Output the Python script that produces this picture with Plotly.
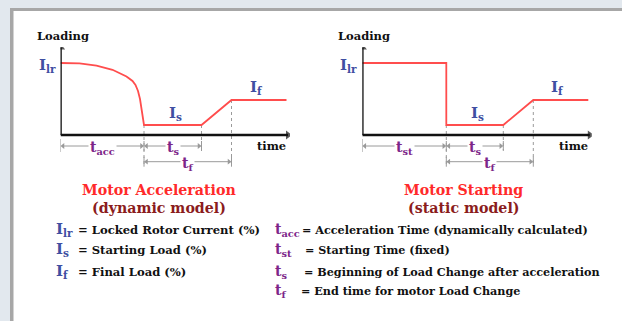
import plotly.graph_objects as go

W, H = 622, 321

# ---- schematic load levels (arbitrary loading units) ----
I_LR = 72     # locked rotor current
I_S = 10      # starting load
I_F = 35      # final load

# ---- time marks (arbitrary time units) ----
T_ACC = 8.35  # acceleration time (dynamic model)
T_ST = 8.4    # starting time (static model)
T_S = 14.1    # beginning of load change
T_F = 17.1    # end of load change
T_END = 22.6  # end of the drawn trace

# decaying current during dynamic acceleration
ACC_T = [0, 1.9, 3.6, 5.2, 6.6, 7.2, 7.5, 7.75, 7.95, 8.1, 8.25, 8.35]
ACC_LOAD = [72, 71.6, 69.4, 65.2, 58.5, 54, 50, 44, 36, 26, 16, 10]

# axis extents and dimension-line rows
TIME_AXIS_MAX = 22.75
LOAD_AXIS_MAX = 87.5
DIM_ROW1 = -11
DIM_ROW2 = -26.7

SERIF = "DejaVu Serif, serif"
RED = "#ff4d4d"
BLUE = "#3f4fa2"
PURPLE = "#7d2589"
GRAY = "#9a9a9a"


def px(x):
    return x / W


def py(y):
    return 1 - y / H


fig = go.Figure()

dyn_t = ACC_T + [T_S, T_F, T_END]
dyn_load = ACC_LOAD + [I_S, I_F, I_F]
sta_t = [0, T_ST, T_ST, T_S, T_F, T_END]
sta_load = [I_LR, I_LR, I_S, I_S, I_F, I_F]

panels = [
    ("x", "y", dyn_t, dyn_load, T_ACC, "t<sub>acc</sub>"),
    ("x2", "y2", sta_t, sta_load, T_ST, "t<sub>st</sub>"),
]

annotations = []


def line(fig, xs, ys, xa, ya, color, width, dash="solid", symbols=None, msize=0):
    fig.add_trace(go.Scatter(
        x=xs, y=ys, xaxis=xa, yaxis=ya,
        mode="lines+markers" if symbols else "lines",
        line=dict(color=color, width=width, dash=dash),
        marker=dict(symbol=symbols, size=msize, color=color, line=dict(width=0)) if symbols else None,
        hoverinfo="skip", showlegend=False))


for xa, ya, tt, ll, t_first, first_label in panels:
    # dotted drops from the load levels
    dot_x, dot_y = [], []
    for t, lvl, bottom in [(t_first, I_S, DIM_ROW2 - 4), (T_S, I_S, DIM_ROW1 - 4), (T_F, I_F, DIM_ROW2 - 4)]:
        dot_x += [t, t, None]
        dot_y += [lvl, bottom, None]
    line(fig, dot_x, dot_y, xa, ya, GRAY, 1, "dot")

    # small solid ticks at the ends of the dimension lines
    tick_x, tick_y = [0, 0, None], [-4, DIM_ROW1 - 6, None]
    for t, row in [(t_first, DIM_ROW1), (t_first, DIM_ROW2), (T_S, DIM_ROW1), (T_F, DIM_ROW2)]:
        tick_x += [t, t, None]
        tick_y += [row + 5, row - 5, None]
    line(fig, tick_x, tick_y, xa, ya, GRAY, 1)

    # dimension lines with arrowheads
    for (a, b, row) in [(0, t_first, DIM_ROW1), (t_first, T_S, DIM_ROW1), (t_first, T_F, DIM_ROW2)]:
        line(fig, [a + 0.25, b - 0.25], [row, row], xa, ya, GRAY, 1,
             symbols=["triangle-left", "triangle-right"], msize=5)

    # loading curve
    line(fig, tt, ll, xa, ya, RED, 1.8)

    # axes with arrowheads
    line(fig, [0, 0], [0, LOAD_AXIS_MAX], xa, ya, "#111111", 2.6, symbols=["circle", "triangle-up"], msize=[0, 8])
    line(fig, [0, TIME_AXIS_MAX], [0, 0], xa, ya, "#111111", 2.6, symbols=["circle", "triangle-right"], msize=[0, 8])

    # dimension labels
    for (a, b, row, lab) in [(0, t_first, DIM_ROW1, first_label),
                             (t_first, T_S, DIM_ROW1, "t<sub>s</sub>"),
                             (t_first, T_F, DIM_ROW2, "t<sub>f</sub>")]:
        annotations.append(dict(xref=xa, yref=ya, x=(a + b) / 2, y=row, text=f"<b>{lab}</b>",
                                showarrow=False, bgcolor="white", borderpad=1, xanchor="center",
                                font=dict(family=SERIF, size=14, color=PURPLE),
                                yshift=-2))

    # level labels
    annotations += [
        dict(xref=xa, yref=ya, x=0, y=I_LR, text="<b>I<sub>lr</sub></b>", showarrow=False,
             xanchor="right", xshift=-3, yshift=-2, font=dict(family=SERIF, size=15, color=BLUE)),
        dict(xref=xa, yref=ya, x=(t_first + T_S) / 2, y=I_S, text="<b>I<sub>s</sub></b>",
             showarrow=False, xanchor="center", yanchor="bottom", yshift=0, xshift=3,
             font=dict(family=SERIF, size=15, color=BLUE)),
        dict(xref=xa, yref=ya, x=(T_F + T_END) / 2, y=I_F, text="<b>I<sub>f</sub></b>",
             showarrow=False, xanchor="center", yanchor="bottom", yshift=1, xshift=-3,
             font=dict(family=SERIF, size=15, color=BLUE)),
        dict(xref=xa, yref=ya, x=0, y=LOAD_AXIS_MAX, text="<b>Loading</b>", showarrow=False,
             xanchor="center", yanchor="bottom", yshift=3, xshift=2,
             font=dict(family=SERIF, size=11.5, color="#111111")),
        dict(xref=xa, yref=ya, x=TIME_AXIS_MAX, y=DIM_ROW1, text="<b>time</b>", showarrow=False,
             xanchor="right", font=dict(family=SERIF, size=11.5, color="#111111")),
    ]

# chart captions
for cx, title, sub in [(159, "Motor Acceleration", "(dynamic model)"),
                       (463.5, "Motor Starting", "(static model)")]:
    annotations.append(dict(xref="paper", yref="paper", x=px(cx), y=py(190), text=f"<b>{title}</b>",
                            xanchor="center", showarrow=False,
                            font=dict(family=SERIF, size=14.2, color="#ff2a2a")))
    annotations.append(dict(xref="paper", yref="paper", x=px(cx), y=py(207.5), text=f"<b>{sub}</b>",
                            xanchor="center", showarrow=False,
                            font=dict(family=SERIF, size=14.2, color="#8b1c1c")))

# key to the symbols
LEFT_KEY = [("I<sub>lr</sub>", "= Locked Rotor Current (%)", 239),
            ("I<sub>s</sub>", "= Starting Load (%)", 259),
            ("I<sub>f</sub>", "= Final Load (%)", 281)]
RIGHT_KEY = [("t<sub>acc</sub>", "= Acceleration Time (dynamically calculated)", 239, 300),
             ("t<sub>st</sub>", "= Starting Time (fixed)", 259, 303),
             ("t<sub>s</sub>", "= Beginning of Load Change after acceleration", 281, 302),
             ("t<sub>f</sub>", "= End time for motor Load Change", 300, 299)]

for sym, desc, yy in LEFT_KEY:
    annotations.append(dict(xref="paper", yref="paper", x=px(54), y=py(yy), text=f"<b>{sym}</b>",
                            xanchor="left", showarrow=False, yshift=-2,
                            font=dict(family=SERIF, size=15, color=BLUE)))
    annotations.append(dict(xref="paper", yref="paper", x=px(76), y=py(yy), text=f"<b>{desc}</b>",
                            xanchor="left", showarrow=False,
                            font=dict(family=SERIF, size=11.6, color="#111111")))
for sym, desc, yy, ex in RIGHT_KEY:
    annotations.append(dict(xref="paper", yref="paper", x=px(273), y=py(yy), text=f"<b>{sym}</b>",
                            xanchor="left", showarrow=False, yshift=-2,
                            font=dict(family=SERIF, size=14, color=PURPLE)))
    annotations.append(dict(xref="paper", yref="paper", x=px(ex), y=py(yy), text=f"<b>{desc}</b>",
                            xanchor="left", showarrow=False,
                            font=dict(family=SERIF, size=11.2, color="#111111")))

axis_common = dict(visible=False, fixedrange=True)
fig.update_layout(
    width=W, height=H,
    margin=dict(l=0, r=0, t=0, b=0),
    paper_bgcolor="#e2e8ee",
    plot_bgcolor="rgba(0,0,0,0)",
    xaxis=dict(domain=[px(60.5), px(290)], range=[0, 22.95], anchor="y", **axis_common),
    yaxis=dict(domain=[py(170), py(47)], range=[-35, 88], anchor="x", **axis_common),
    xaxis2=dict(domain=[px(362.3), px(591.8)], range=[0, 22.95], anchor="y2", **axis_common),
    yaxis2=dict(domain=[py(170), py(47)], range=[-35, 88], anchor="x2", **axis_common),
    annotations=annotations,
    shapes=[
        dict(type="rect", xref="paper", yref="paper", x0=px(10), x1=1, y0=0, y1=py(8),
             fillcolor="#a7a7a7", line=dict(width=0), layer="below"),
        dict(type="rect", xref="paper", yref="paper", x0=px(13.5), x1=1, y0=0, y1=py(11),
             fillcolor="white", line=dict(width=0), layer="below"),
    ],
)

fig.write_html("out.html")
